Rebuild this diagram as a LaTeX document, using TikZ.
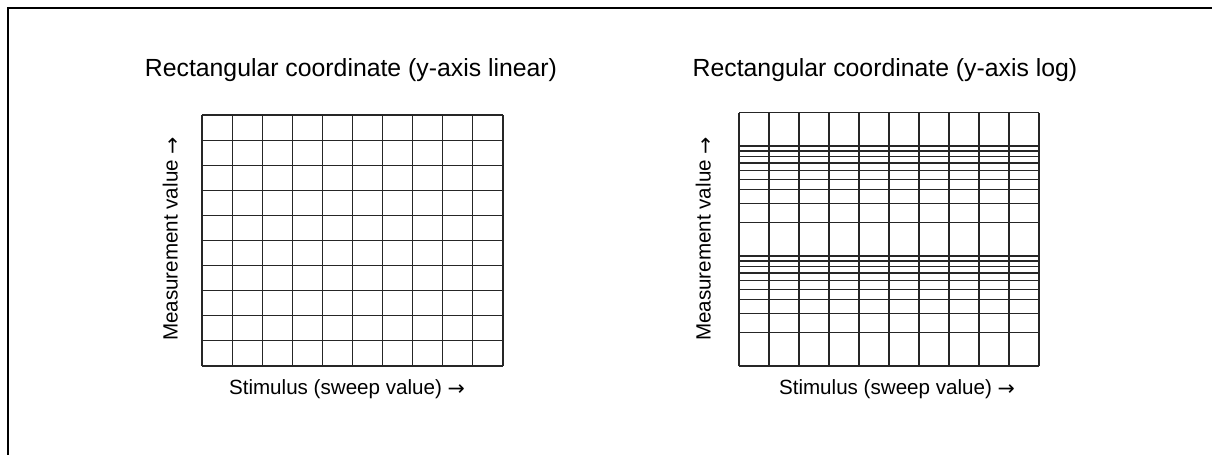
\documentclass[tikz,border=0pt]{standalone}
\usepackage{fontspec}
\setmainfont{Liberation Sans}
\newfontfamily\arrowfont{DejaVu Sans}
\newcommand{\axisarrow}{\raisebox{-0.9pt}{\arrowfont →}}
\usetikzlibrary{positioning}

\begin{document}
\begin{tikzpicture}[
    x=0.5pt, y=-0.5pt,
    title/.style={font=\fontsize{12.4}{15}\selectfont, inner sep=0pt},
    axislabel/.style={font=\fontsize{10.3}{12}\selectfont, inner sep=0pt},
    gridline/.style={line width=0.55pt, draw=black!85}
]
    \useasboundingbox (0,0) rectangle (1212,455);

    % Outer frame (left and top edges only)
    \draw[line width=1pt] (7.5,455) -- (7.5,7.5) -- (1212,7.5);

    % Left chart: linear y-axis
    \node[title, anchor=base] (lintitle) at (351,76) {Rectangular coordinate (y-axis linear)};
    \foreach \i in {0,...,10} {
        \draw[gridline] (202+30.1*\i,115) -- (202+30.1*\i,366);
        \draw[gridline] (202,115+25.1*\i) -- (503,115+25.1*\i);
    }
    \node[axislabel, rotate=90] (linmeas) at (171,239) {Measurement value \axisarrow};
    \node[axislabel, anchor=base] (linstim) at (347,394) {Stimulus (sweep value) \axisarrow};

    % Right chart: log y-axis
    \node[title, anchor=base] (logtitle) at (885,76) {Rectangular coordinate (y-axis log)};
    \foreach \i in {0,...,10}
        \draw[gridline] (739+30*\i,112.9) -- (739+30*\i,366);
    \draw[gridline] (739,112.9) -- (1039,112.9);
    \foreach \k in {1,...,10} {
        \pgfmathsetmacro{\yk}{366-110*log10(\k)}
        \draw[gridline] (739,\yk) -- (1039,\yk);
        \draw[gridline] (739,\yk-110) -- (1039,\yk-110);
    }
    \node[axislabel, rotate=90] (logmeas) at (704,239) {Measurement value \axisarrow};
    \node[axislabel, anchor=base] (logstim) at (897,394) {Stimulus (sweep value) \axisarrow};
\end{tikzpicture}
\end{document}
